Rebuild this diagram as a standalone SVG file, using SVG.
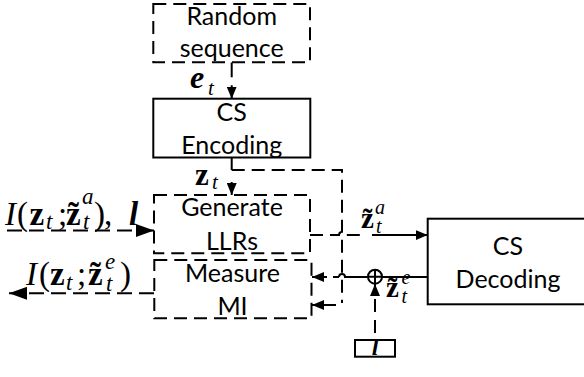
<svg xmlns="http://www.w3.org/2000/svg" width="584" height="377" viewBox="0 0 584 377">
<style>
.box{fill:#fff;stroke:#000;stroke-width:2}
.dash{stroke-dasharray:13 7}
.lbl{font-family:Lato,"Liberation Sans",sans-serif;font-size:25px;text-anchor:middle;fill:#000}
.m{font-family:"Liberation Serif",serif;fill:#000}
.ln{fill:none;stroke:#000;stroke-width:2}
.b{font-weight:bold}
.i{font-style:italic}
</style>
<defs>
<marker id="arr" viewBox="0 0 12 10" refX="12" refY="5" markerWidth="12" markerHeight="10" markerUnits="userSpaceOnUse" orient="auto">
<path d="M0,0 L12,5 L0,10 z" fill="#000"/>
</marker>
<marker id="arrL" viewBox="0 0 18 13" refX="18" refY="6.5" markerWidth="18" markerHeight="13" markerUnits="userSpaceOnUse" orient="auto">
<path d="M0,0 L18,6.5 L0,13 z" fill="#000"/>
</marker>
</defs>
<rect width="584" height="377" fill="#fff"/>

<g id="connectors">
<path class="ln" d="M231.7 62.3 V98.7" style="stroke-dasharray:15 8" marker-end="url(#arr)"/>
<path class="ln" d="M231.7 157.5 V170"/>
<path class="ln dash" d="M231.7 170 H342 V303"/>
<path class="ln" d="M231.7 182 V195" marker-end="url(#arr)"/>
<path class="ln" d="M336 305 H312" marker-end="url(#arr)"/>
<path class="ln" d="M7 230.5 H154" style="stroke-dasharray:15 7" marker-end="url(#arrL)"/>
<path class="ln" d="M154 293.3 H9" style="stroke-dasharray:15 7" marker-end="url(#arrL)"/>
<path class="ln dash" d="M310 235 H339 a3 3 0 0 1 6 0 H366"/>
<path class="ln" d="M372 235 H427.7" marker-end="url(#arr)"/>
<path class="ln" d="M427.7 277 H345 a3 3 0 0 0 -6 0"/>
<path class="ln" d="M339 277 H312" style="stroke-dasharray:6 6" marker-end="url(#arr)"/>
<path class="ln" d="M375 340 V284" style="stroke-dasharray:13 8;stroke-dashoffset:14" marker-end="url(#arr)"/>
</g>

<g id="random-sequence">
<rect class="box dash" x="153.3" y="4" width="156.7" height="58.3"/>
<text class="lbl" x="231.7" y="25">Random</text>
<text class="lbl" x="231.7" y="56.5">sequence</text>
</g>

<g id="cs-encoding">
<rect class="box" x="153.3" y="98.7" width="157" height="58.8"/>
<text class="lbl" x="231.7" y="120.5">CS</text>
<text class="lbl" x="231.7" y="154">Encoding</text>
</g>

<g id="generate-llrs">
<rect class="box dash" x="154" y="195" width="156" height="58.3"/>
<text class="lbl" x="232" y="216">Generate</text>
<text class="lbl" x="232" y="250">LLRs</text>
</g>

<g id="measure-mi">
<rect class="box dash" x="154.3" y="260" width="157.2" height="58.3"/>
<text class="lbl" x="232.5" y="281.7">Measure</text>
<text class="lbl" x="232.5" y="315">MI</text>
</g>

<g id="cs-decoding">
<rect class="box" x="427.7" y="218.7" width="170" height="85.6"/>
<text class="lbl" x="508" y="255">CS</text>
<text class="lbl" x="508" y="288.3">Decoding</text>
</g>

<g id="sum">
<circle cx="375" cy="276.7" r="7" fill="#fff" stroke="#000" stroke-width="2"/>
<path class="ln" d="M368 276.7 H382 M375 269.7 V283.7"/>
</g>

<g id="l-box">
<rect class="box" x="355" y="340" width="40" height="16.7"/>
<text class="m b i" x="375" y="355" font-size="24" text-anchor="middle">l</text>
</g>

<g id="labels">
<text class="m" font-size="32"><tspan x="190" y="88" class="b i">e</tspan><tspan x="208" y="95" font-size="21" class="i">t</tspan></text>
<text class="m" font-size="31"><tspan x="195" y="185" class="b">z</tspan><tspan x="212" y="189" font-size="21" class="i">t</tspan></text>
<text class="m" font-size="33"><tspan x="5" y="225" class="i">I</tspan><tspan x="17" y="225">(</tspan><tspan x="29.5" y="225" class="b">z</tspan><tspan x="46" y="229" font-size="23" class="i">t</tspan><tspan x="58" y="225">;</tspan><tspan x="66" y="225" class="b">z̃</tspan><tspan x="82" y="204" font-size="23" class="i">a</tspan><tspan x="83" y="229" font-size="23" class="i">t</tspan><tspan x="94" y="225">)</tspan><tspan x="104" y="225">,</tspan><tspan x="129" y="225" class="b i">l</tspan></text>
<text class="m" font-size="33"><tspan x="26" y="285" class="i">I</tspan><tspan x="39" y="285">(</tspan><tspan x="50" y="285" class="b">z</tspan><tspan x="66" y="290" font-size="23" class="i">t</tspan><tspan x="77" y="285">;</tspan><tspan x="88" y="285" class="b">z̃</tspan><tspan x="105" y="269" font-size="23" class="i">e</tspan><tspan x="106" y="291" font-size="23" class="i">t</tspan><tspan x="120" y="285">)</tspan></text>
<text class="m" font-size="29"><tspan x="361" y="228" class="b">z̃</tspan><tspan x="375" y="214" font-size="20" class="i">a</tspan><tspan x="376" y="233" font-size="20" class="i">t</tspan></text>
<text class="m" font-size="29"><tspan x="386" y="297" class="b">z̃</tspan><tspan x="401.5" y="284" font-size="20" class="i">e</tspan><tspan x="401.5" y="303" font-size="20" class="i">t</tspan></text>
</g>
</svg>
